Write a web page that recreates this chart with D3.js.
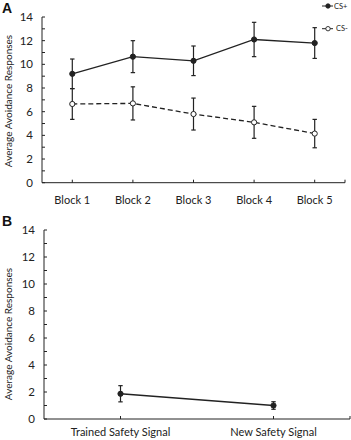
<!DOCTYPE html>
<html>
<head>
<meta charset="utf-8">
<script src="https://cdn.jsdelivr.net/npm/d3@7"></script>
<style>
  body { margin: 0; background: #fff; }
  svg { display: block; font-family: Lato, "Open Sans", sans-serif; }
</style>
</head>
<body>
<svg id="chart" width="351" height="440"></svg>
<script>
// panel A
const blocks = ["Block 1", "Block 2", "Block 3", "Block 4", "Block 5"];
const csPlus = [9.2, 10.65, 10.3, 12.1, 11.8];
const csPlusErr = [1.25, 1.35, 1.25, 1.45, 1.3];
const csMinus = [6.65, 6.7, 5.8, 5.1, 4.15];
const csMinusErr = [1.3, 1.4, 1.35, 1.35, 1.2];

// panel B
const signals = ["Trained Safety Signal", "New Safety Signal"];
const signalMeans = [1.87, 1.0];
const signalErr = [0.6, 0.28];

const yTicks = [0, 2, 4, 6, 8, 10, 12, 14];
const yMinor = [1, 3, 5, 7, 9, 11, 13];
const legendLabels = ["CS+", "CS-"];

const ink = "#222";
const svg = d3.select("#chart");

function drawAxes(g, x, y, cats, titleY, labelGap) {
    const [x0, x1] = x.range();
    const [y0, y1] = y.range();

    g.append("line")
        .attr("x1", x0).attr("x2", x0)
        .attr("y1", y0).attr("y2", y1)
        .attr("stroke", ink).attr("stroke-width", 1);
    g.append("line")
        .attr("x1", x0).attr("x2", x1)
        .attr("y1", y0).attr("y2", y0)
        .attr("stroke", ink).attr("stroke-width", 1);

    // y ticks point inward
    g.selectAll(".ytick")
        .data(yTicks.concat(yMinor))
        .enter().append("line")
        .attr("x1", x0).attr("x2", x0 + 3)
        .attr("y1", d => y(d)).attr("y2", d => y(d))
        .attr("stroke", ink);

    g.selectAll(".ylab")
        .data(yTicks)
        .enter().append("text")
        .attr("x", x0 - 9)
        .attr("y", d => y(d))
        .attr("dy", "0.36em")
        .attr("text-anchor", "end")
        .attr("font-size", "11.5px")
        .attr("fill", ink)
        .text(d => d);

    // category ticks + end tick
    g.selectAll(".xtick")
        .data(cats)
        .enter().append("line")
        .attr("x1", d => x(d)).attr("x2", d => x(d))
        .attr("y1", y0).attr("y2", y0 - 3)
        .attr("stroke", ink);
    g.append("line")
        .attr("x1", x1).attr("x2", x1)
        .attr("y1", y0).attr("y2", y0 - 3)
        .attr("stroke", ink);

    g.selectAll(".xlab")
        .data(cats)
        .enter().append("text")
        .attr("x", d => x(d))
        .attr("y", y0 + labelGap)
        .attr("text-anchor", "middle")
        .attr("font-size", "11px")
        .attr("fill", ink)
        .text(d => d);

    g.append("text")
        .attr("transform", `translate(12, ${titleY}) rotate(-90)`)
        .attr("text-anchor", "middle")
        .attr("font-size", "10px")
        .attr("fill", ink)
        .text("Average Avoidance Responses");
}

function drawSeries(g, x, y, cats, vals, errs, filled, dashed) {
    const pts = cats.map((c, i) => ({ c, v: vals[i], e: errs[i] }));

    g.append("path")
        .datum(pts)
        .attr("fill", "none")
        .attr("stroke", ink)
        .attr("stroke-width", 1.3)
        .attr("stroke-dasharray", dashed ? "5,3" : null)
        .attr("d", d3.line().x(d => x(d.c)).y(d => y(d.v)));

    const eb = g.append("g").attr("stroke", ink).attr("stroke-width", 1.2);
    pts.forEach(d => {
        const cx = x(d.c);
        eb.append("line").attr("x1", cx).attr("x2", cx)
            .attr("y1", y(d.v + d.e)).attr("y2", y(d.v - d.e));
        eb.append("line").attr("x1", cx - 2.2).attr("x2", cx + 2.2)
            .attr("y1", y(d.v + d.e)).attr("y2", y(d.v + d.e));
        eb.append("line").attr("x1", cx - 2.2).attr("x2", cx + 2.2)
            .attr("y1", y(d.v - d.e)).attr("y2", y(d.v - d.e));
    });

    g.selectAll(null)
        .data(pts)
        .enter().append("circle")
        .attr("cx", d => x(d.c))
        .attr("cy", d => y(d.v))
        .attr("r", 2.6)
        .attr("fill", filled ? ink : "#fff")
        .attr("stroke", ink)
        .attr("stroke-width", 1);
}

// ---- Panel A ----
const xA = d3.scalePoint().domain(blocks).range([42, 345]).padding(0.5);
const yA = d3.scaleLinear().domain([0, 14]).range([182.7, 17]);
const gA = svg.append("g");
drawAxes(gA, xA, yA, blocks, 101, 21);
drawSeries(gA, xA, yA, blocks, csMinus, csMinusErr, false, true);
drawSeries(gA, xA, yA, blocks, csPlus, csPlusErr, true, false);

svg.append("text").attr("x", 2).attr("y", 13)
    .attr("font-family", "Liberation Sans, Arial, sans-serif")
    .attr("font-weight", "bold").attr("font-size", "14px").attr("fill", "#111")
    .text("A");

// legend
const legend = svg.append("g");
legendLabels.forEach((lab, i) => {
    const ly = 6 + i * 22.7;
    legend.append("line")
        .attr("x1", 322).attr("x2", 333)
        .attr("y1", ly).attr("y2", ly)
        .attr("stroke", ink).attr("stroke-width", 1);
    legend.append("circle")
        .attr("cx", 328).attr("cy", ly).attr("r", 2.2)
        .attr("fill", i === 0 ? ink : "#fff")
        .attr("stroke", ink).attr("stroke-width", 0.9);
    legend.append("text")
        .attr("x", i === 0 ? 334 : 336).attr("y", ly)
        .attr("dy", "0.35em")
        .attr("font-size", "7.5px")
        .attr("fill", ink)
        .text(lab);
});

// ---- Panel B ----
const xB = d3.scalePoint().domain(signals).range([44, 350]).padding(0.5);
const yB = d3.scaleLinear().domain([0, 14]).range([419, 230]);
const gB = svg.append("g");
drawAxes(gB, xB, yB, signals, 334, 17);
drawSeries(gB, xB, yB, signals, signalMeans, signalErr, true, false);

svg.append("text").attr("x", 2).attr("y", 226)
    .attr("font-family", "Liberation Sans, Arial, sans-serif")
    .attr("font-weight", "bold").attr("font-size", "14px").attr("fill", "#111")
    .text("B");
</script>
</body>
</html>
